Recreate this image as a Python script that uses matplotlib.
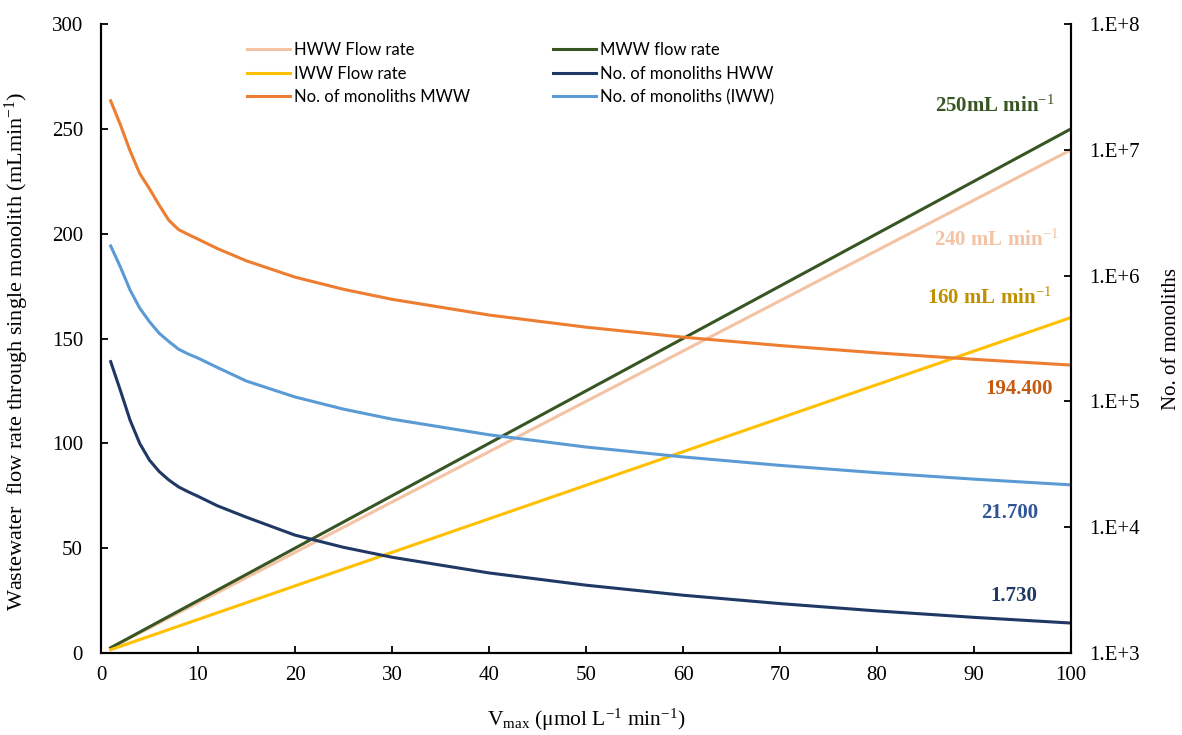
import matplotlib
matplotlib.use('Agg')
from matplotlib import pyplot as plt

plt.rcParams['font.family'] = ['Liberation Serif', 'DejaVu Serif']
plt.rcParams['mathtext.fontset'] = 'custom'
plt.rcParams['mathtext.rm'] = 'Liberation Serif'
plt.rcParams['mathtext.it'] = 'Liberation Serif:italic'
plt.rcParams['mathtext.bf'] = 'Liberation Serif:bold'

# flow rate through one monolith (left axis)
x_flow = [1, 100]
hww_flow = [2.4, 240]
mww_flow = [2.5, 250]
iww_flow = [1.6, 160]

# number of monoliths (right axis, log)
x_mono = [1, 2, 3, 4, 5, 6, 7, 8, 9, 10, 12, 15, 20, 25, 30, 40, 50, 60, 70, 80, 90, 100]
mono_mww = [2.45e7, 1.58e7, 9.8e6, 6.46e6, 4.9e6, 3.63e6, 2.75e6, 2.32e6, 2.12e6, 1.95e6, 1.64e6, 1.31e6,
            9.72e5, 7.78e5, 6.48e5, 4.86e5, 3.89e5, 3.24e5, 2.78e5, 2.43e5, 2.16e5, 1.944e5]
mono_iww = [1.72e6, 1.17e6, 7.67e5, 5.5e5, 4.3e5, 3.48e5, 2.99e5, 2.6e5, 2.38e5, 2.21e5, 1.86e5, 1.45e5,
            1.085e5, 8.68e4, 7.23e4, 5.43e4, 4.34e4, 3.62e4, 3.1e4, 2.71e4, 2.41e4, 2.17e4]
mono_hww = [2.07e5, 1.22e5, 7.08e4, 4.62e4, 3.41e4, 2.77e4, 2.37e4, 2.09e4, 1.91e4, 1.76e4, 1.48e4, 1.2e4,
            8.65e3, 6.92e3, 5.77e3, 4.33e3, 3.46e3, 2.88e3, 2.47e3, 2.16e3, 1.92e3, 1.73e3]

c_hww_flow = '#F4C3A4'
c_mww_flow = '#375623'
c_iww_flow = '#FFC000'
c_hww_mono = '#203864'
c_mww_mono = '#ED7D31'
c_iww_mono = '#5B9BD5'

fig = plt.figure(figsize=(11.82, 7.35), dpi=100)
ax = fig.add_axes([101/1182, 1 - 653/735, (1071-101)/1182, (653-24)/735])
ax2 = ax.twinx()

l1, = ax.plot(x_flow, hww_flow, color=c_hww_flow, lw=2.2)
l2, = ax.plot(x_flow, mww_flow, color=c_mww_flow, lw=2.2)
l3, = ax.plot(x_flow, iww_flow, color=c_iww_flow, lw=2.2)
l4, = ax2.plot(x_mono, mono_hww, color=c_hww_mono, lw=2.2)
l5, = ax2.plot(x_mono, mono_mww, color=c_mww_mono, lw=2.2)
l6, = ax2.plot(x_mono, mono_iww, color=c_iww_mono, lw=2.2)

ax.set_xlim(0, 100)
ax.set_ylim(0, 300)
ax2.set_yscale('log')
ax2.set_ylim(1e3, 1e8)
ax.set_xticks(range(0, 101, 10))
ax.set_yticks(range(0, 301, 50))
ax2.set_yticks([1e3, 1e4, 1e5, 1e6, 1e7, 1e8])
ax2.set_yticklabels(['1.E+3', '1.E+4', '1.E+5', '1.E+6', '1.E+7', '1.E+8'])
ax2.minorticks_off()

for a in (ax, ax2):
    a.spines['top'].set_visible(False)
    a.tick_params(direction='in', length=5, width=1.3, labelsize=15)
    for s in a.spines.values():
        s.set_linewidth(1.5)
ax.tick_params(axis='x', pad=9)
ax.tick_params(axis='y', pad=13)
ax2.tick_params(axis='y', pad=13)

ax.set_ylabel('Wastewater  flow rate through single monolith (mLmin$^{-1}$)', fontsize=16)
ax.yaxis.set_label_coords(-0.072, 0.48)
ax.set_xlabel(r'V$_{\mathrm{max}}$ ($\mathrm{\mu}$mol L$^{-1}$ min$^{-1}$)', fontsize=15.5, labelpad=16)
ax2.set_ylabel('No. of monoliths', fontsize=15, labelpad=16)

ann = dict(fontsize=15, fontweight='bold', ha='right', va='center')
ax.text(98.3, 261, '250mL min$^{-1}$', color='#375623', **ann)
ax.text(98.7, 197, '240 mL min$^{-1}$', color='#F4C3A4', **ann)
ax.text(98.0, 169, '160 mL min$^{-1}$', color='#BF9000', **ann)
ax.text(98.1, 126, '194.400', color='#C55A11', **ann)
ax.text(96.6, 67, '21.700', color='#2F5597', **ann)
ax.text(96.5, 27, '1.730', color='#203864', **ann)

handles = [l1, l3, l5, l2, l4, l6]
labels = ['HWW Flow rate', 'IWW Flow rate', 'No. of monoliths MWW',
          'MWW flow rate', 'No. of monoliths HWW', 'No. of monoliths (IWW)']
fig.legend(handles, labels, loc='upper left', bbox_to_anchor=(232/1182, 1 - 27/735),
           ncol=2, frameon=False, prop={'family': 'Lato', 'size': 12},
           handlelength=2.6, handletextpad=0.2, columnspacing=5.0, labelspacing=0.45)

fig.savefig('out.png', dpi=100)
